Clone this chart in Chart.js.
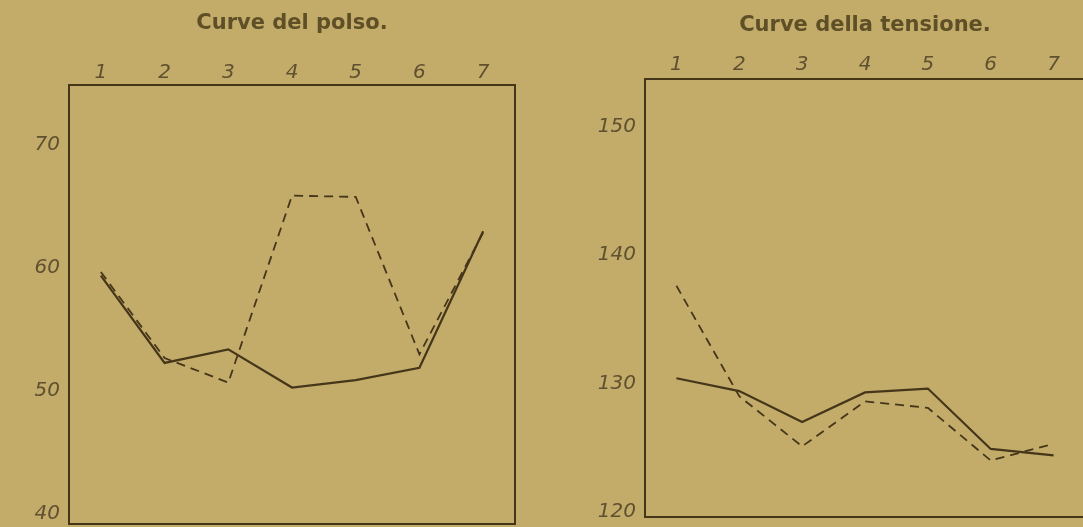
<!DOCTYPE html>
<html>
<head>
<meta charset="utf-8">
<script src="https://cdn.jsdelivr.net/npm/chart.js@4.4.1/dist/chart.umd.min.js"></script>
<style>
  html, body { margin: 0; padding: 0; width: 1083px; height: 527px; overflow: hidden; background: #c3ab6a; }
  .panel { position: absolute; top: 0; }
</style>
</head>
<body>
<div class="panel" style="left:0px"><canvas id="pulse" width="540" height="527"></canvas></div>
<div class="panel" style="left:560px"><canvas id="tension" width="530" height="527"></canvas></div>
<script>
// observations 1..7
const days = ["1", "2", "3", "4", "5", "6", "7"];

// Curve del polso (beats)
const pulseSolid  = [59.4, 52.3, 53.4, 50.3, 50.9, 51.9, 63.0];
const pulseDashed = [59.7, 52.7, 50.7, 65.9, 65.8, 53.0, 62.9];
const pulseTicks  = [40, 50, 60, 70];

// Curve della tensione
const tensionSolid  = [130.4, 129.4, 127.0, 129.3, 129.6, 124.9, 124.4];
const tensionDashed = [137.6, 129.0, 125.1, 128.6, 128.1, 124.0, 125.3];
const tensionTicks  = [120, 130, 140, 150];

const ink = "#45361a";
const labelInk = "#5f5030";

// draws the closed frame round the plot area
const frame = {
  id: "frame",
  afterDraw(chart) {
    const a = chart.chartArea, ctx = chart.ctx;
    ctx.save();
    ctx.strokeStyle = ink;
    ctx.lineWidth = 2;
    ctx.strokeRect(a.left, a.top, a.right - a.left, a.bottom - a.top);
    ctx.restore();
  }
};

function makeChart(id, title, solid, dashed, ticks, yMin, yMax, opts) {
  const ctx = document.getElementById(id).getContext("2d");
  return new Chart(ctx, {
    type: "line",
    data: {
      labels: days,
      datasets: [
        { data: solid, borderColor: ink, borderWidth: 2.2, pointRadius: 0, tension: 0, fill: false },
        { data: dashed, borderColor: ink, borderWidth: 1.8, borderDash: [9, 6], pointRadius: 0, tension: 0, fill: false }
      ]
    },
    options: {
      responsive: false,
      animation: false,
      layout: { padding: opts.padding },
      plugins: {
        legend: { display: false },
        tooltip: { enabled: false },
        title: {
          display: true,
          text: title,
          fullSize: false,
          color: "#5e4f27",
          font: { family: "DejaVu Sans", size: 21, weight: "bold" },
          padding: { top: opts.titleTop, bottom: 0 }
        }
      },
      scales: {
        x: {
          position: "top",
          offset: true,
          grid: { display: false, drawTicks: false },
          border: { display: false },
          ticks: { color: labelInk, padding: opts.xPad, font: { family: "DejaVu Sans", style: "italic", size: 20 } },
          afterFit: (s) => { s.height = opts.xHeight; s.paddingLeft = 0; s.paddingRight = 0; }
        },
        y: {
          min: yMin,
          max: yMax,
          grid: { display: false, drawTicks: false },
          border: { display: false },
          afterBuildTicks: (s) => { s.ticks = ticks.map(v => ({ value: v })); },
          ticks: { color: labelInk, padding: 9, font: { family: "DejaVu Sans", style: "italic", size: 20 } },
          afterFit: (s) => { s.width = opts.yWidth; s.paddingTop = 0; s.paddingBottom = 0; }
        }
      }
    },
    plugins: [frame]
  });
}

makeChart("pulse", "Curve del polso.", pulseSolid, pulseDashed, pulseTicks, 39.2, 74.9,
  { padding: { left: 0, right: 25, top: 0, bottom: 3 }, titleTop: 11, xHeight: 48.8, xPad: 0, yWidth: 69 });

makeChart("tension", "Curve della tensione.", tensionSolid, tensionDashed, tensionTicks, 119.6, 153.7,
  { padding: { left: 0, right: 5, top: 0, bottom: 10 }, titleTop: 13, xHeight: 40.8, xPad: 2, yWidth: 85 });
</script>
</body>
</html>
